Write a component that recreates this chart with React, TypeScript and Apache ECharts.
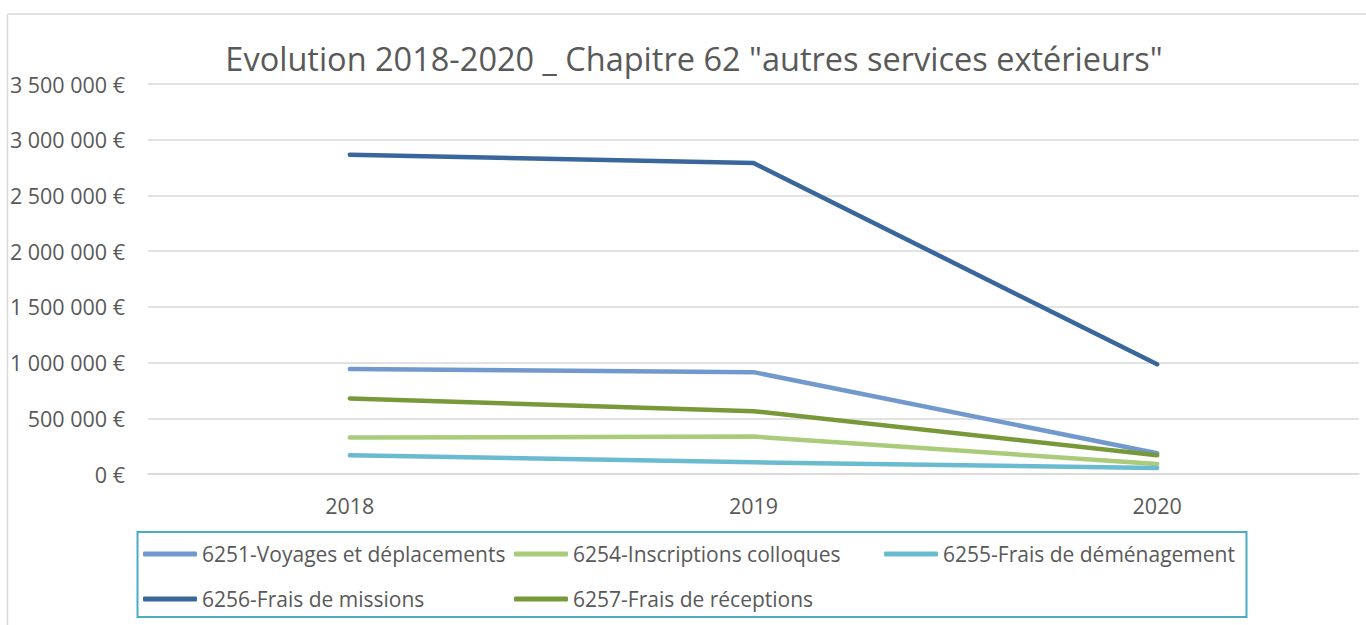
import React, { useEffect, useRef } from "react";
import * as echarts from "echarts";

const categories = ["2018", "2019", "2020"];
const seriesNames = [
  "6251-Voyages et déplacements",
  "6254-Inscriptions colloques",
  "6255-Frais de déménagement",
  "6256-Frais de missions",
  "6257-Frais de réceptions",
];
const voyages = [942000, 914000, 186000];
const inscriptions = [327000, 336000, 90000];
const demenagement = [168000, 105000, 54000];
const missions = [2866000, 2791000, 984000];
const receptions = [678000, 564000, 168000];
const seriesValues = [voyages, inscriptions, demenagement, missions, receptions];
const colors = ["#7199CD", "#A9CB7A", "#6BBBD0", "#3A679B", "#77993A"];
const titleText = 'Evolution 2018-2020 _ Chapitre 62 "autres services extérieurs"';

const FONT = "Open Sans";
const TXT = "#595959";

function fmt(v: number): string {
  const s = Math.round(v).toString().replace(/\B(?=(\d{3})+(?!\d))/g, " ");
  return s + " €";
}

// legend slot positions: [left, top]
const legendSlots = [
  [143, 541],
  [514, 541],
  [884, 541],
  [143, 586],
  [514, 586],
];

export default function App() {
  const ref = useRef<HTMLDivElement>(null);
  useEffect(() => {
    if (!ref.current) return;
    const chart = echarts.init(ref.current, null, { renderer: "svg" });
    const option: any = {
      animation: false,
      backgroundColor: "#ffffff",
      textStyle: { fontFamily: FONT },
      grid: { left: 148, right: 7, top: 84, bottom: 151, containLabel: false },
      xAxis: {
        type: "category",
        data: categories,
        boundaryGap: true,
        axisLine: { show: true, lineStyle: { color: "#D9D9D9", width: 1.5 } },
        axisTick: { show: false },
        axisLabel: { color: TXT, fontSize: 21.5, fontFamily: FONT, margin: 20 },
        splitLine: { show: false },
      },
      yAxis: {
        type: "value",
        min: 0,
        max: 3500000,
        interval: 500000,
        axisLine: { show: false },
        axisTick: { show: false },
        axisLabel: {
          color: TXT,
          fontSize: 21.5,
          fontFamily: FONT,
          margin: 23,
          formatter: (v: number) => fmt(v),
        },
        splitLine: { show: true, lineStyle: { color: "#D9D9D9", width: 1.5 } },
      },
      legend: seriesNames.map((n, i) => ({
        data: [n],
        left: legendSlots[i][0],
        top: legendSlots[i][1],
        padding: 0,
        itemWidth: 54,
        itemHeight: 5,
        icon: "roundRect",
        selectedMode: false,
        textStyle: { color: TXT, fontSize: 21, fontFamily: FONT, lineHeight: 26 },
      })),
      graphic: [
        {
          type: "line",
          shape: { x1: 7.5, y1: 14, x2: 1366, y2: 14 },
          style: { stroke: "#D9D9D9", lineWidth: 1.5 },
          silent: true,
        },
        {
          type: "line",
          shape: { x1: 7.5, y1: 14, x2: 7.5, y2: 625 },
          style: { stroke: "#D9D9D9", lineWidth: 1.5 },
          silent: true,
        },
        {
          type: "rect",
          shape: { x: 137.5, y: 532, width: 1109, height: 85 },
          style: { fill: "none", stroke: "#4BACC6", lineWidth: 2 },
          silent: true,
        },
        {
          type: "text",
          x: 694,
          y: 58,
          style: {
            text: titleText,
            fill: TXT,
            fontSize: 32.5,
            fontFamily: FONT,
            textAlign: "center",
            textVerticalAlign: "middle",
          },
          silent: true,
        },
      ],
      series: seriesNames.map((n, i) => ({
        name: n,
        type: "line",
        data: seriesValues[i],
        showSymbol: false,
        symbol: "none",
        color: colors[i],
        lineStyle: { color: colors[i], width: 4.5, cap: "round", join: "round" },
        itemStyle: { color: colors[i] },
        emphasis: { disabled: true },
      })),
    };
    chart.setOption(option);
    return () => chart.dispose();
  }, []);
  return (
    <div
      ref={ref}
      style={{ position: "fixed", left: 0, top: 0, width: 1366, height: 625, background: "#fff" }}
    />
  );
}
